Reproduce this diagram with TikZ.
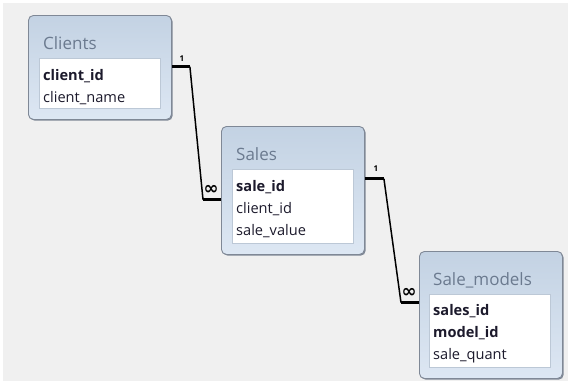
\documentclass[tikz,border=0pt]{standalone}
\usepackage{fontspec}
\setmainfont{Open Sans}
\newfontfamily\symfont{DejaVu Sans}
\usetikzlibrary{calc}
\usetikzlibrary{shadows}
\definecolor{canvas}{HTML}{F0F0F0}
\definecolor{tabtop}{HTML}{C3D2E3}
\definecolor{tabbot}{HTML}{DDE7F3}
\definecolor{tabline}{HTML}{7F8896}
\definecolor{titlegray}{HTML}{6B7A8F}
\definecolor{fieldline}{HTML}{BCC8D6}
\definecolor{fieldtext}{HTML}{1C1A2C}
\begin{document}
\begin{tikzpicture}[x=1pt,y=-1pt,
  tablebox/.style={draw=tabline,line width=0.9pt,rounded corners=5pt,anchor=north west,
    top color=tabtop,bottom color=tabbot,minimum width=143pt,
    drop shadow={shadow xshift=1.2pt,shadow yshift=-1.2pt,fill=tabline,opacity=1}},
  fieldbox/.style={draw=fieldline,fill=white,line width=1pt,anchor=north west,minimum width=121pt},
  tabletitle/.style={anchor=base west,inner sep=0pt,text=titlegray,font=\fontsize{17}{20}\selectfont},
  field/.style={anchor=base west,inner sep=0pt,text=fieldtext,font=\fontsize{14.6}{17}\selectfont},
  keyfield/.style={field,font=\fontsize{14.6}{17}\selectfont\bfseries},
  stub/.style={line width=3pt},
  link/.style={line width=1.5pt},
  one/.style={inner sep=0pt,font=\fontsize{8}{9}\selectfont\bfseries},
  many/.style={inner sep=0pt,font=\symfont\bfseries\fontsize{18}{18}\selectfont}]
\useasboundingbox (0,0) rectangle (570,381);
\fill[white] (0,0) rectangle (570,381);
\fill[canvas] (3,3) rectangle (568,381);

% Clients
\node[tablebox,minimum height=104pt] (clients) at (28,15) {};
\node[tabletitle] (clientstitle) at (43,49) {Clients};
\node[fieldbox,minimum height=50pt] (clientsbox) at (39,58) {};
\node[keyfield] (clientid) at (43,80) {client\_id};
\node[field] (clientname) at (43,102) {client\_name};

% Sales
\node[tablebox,minimum height=128pt] (sales) at (221,126) {};
\node[tabletitle] (salestitle) at (236,160) {Sales};
\node[fieldbox,minimum height=74pt] (salesbox) at (232,169) {};
\node[keyfield] (saleid) at (236,191) {sale\_id};
\node[field] (salesclientid) at (236,213) {client\_id};
\node[field] (salevalue) at (236,235) {sale\_value};

% Sale_models
\node[tablebox,minimum height=127pt] (models) at (419,251) {};
\node[tabletitle] (modelstitle) at (433,285) {Sale\_models};
\node[fieldbox,minimum height=73pt] (modelsbox) at (429,294) {};
\node[keyfield] (salesid) at (433,315) {sales\_id};
\node[keyfield] (modelid) at (433,337) {model\_id};
\node[field] (salequant) at (433,359) {sale\_quant};

% relationships
\coordinate (r1a) at ($(clientid -| clients.east)+(0,-9)$);
\coordinate (r1b) at ($(salesclientid -| sales.west)+(0,-9)$);
\draw[stub] (r1a) -- ++(18,0) coordinate (r1c);
\draw[stub] (r1b) -- ++(-18,0) coordinate (r1d);
\draw[link] (r1c) -- (r1d);
\node[one] (r1one) at ($(r1a)+(10,-8)$) {1};
\node[many] (r1many) at ($(r1b)+(-10,-10)$) {∞};

\coordinate (r2a) at ($(saleid -| sales.east)+(0,-8)$);
\coordinate (r2b) at ($(salesid -| models.west)+(0,-8)$);
\draw[stub] (r2a) -- ++(19,0) coordinate (r2c);
\draw[stub] (r2b) -- ++(-18,0) coordinate (r2d);
\draw[link] (r2c) -- (r2d);
\node[one] (r2one) at ($(r2a)+(11,-10)$) {1};
\node[many] (r2many) at ($(r2b)+(-10,-10)$) {∞};
\end{tikzpicture}
\end{document}
